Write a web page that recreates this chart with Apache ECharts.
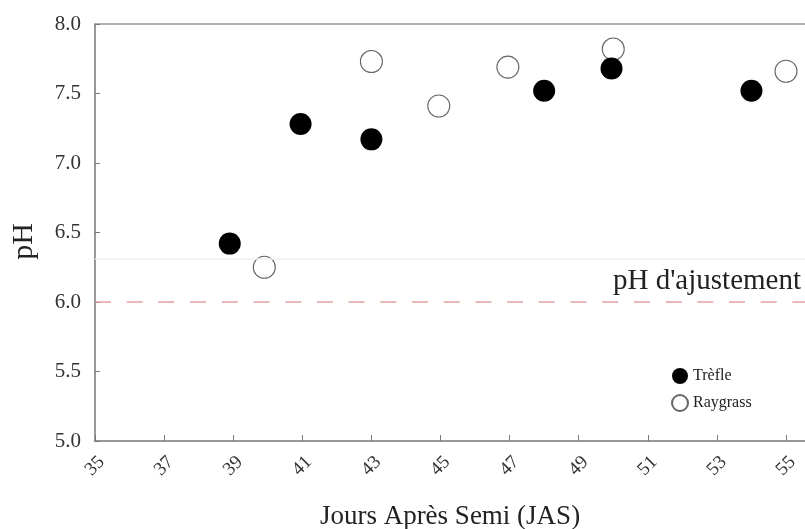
<!DOCTYPE html>
<html><head><meta charset="utf-8">
<script src="https://cdn.jsdelivr.net/npm/echarts@6/dist/echarts.min.js"></script>
<style>html,body{margin:0;padding:0;background:#fff}#c{width:805px;height:529px}</style>
</head><body><div id="c"></div>
<script>
const xTicks = [35,37,39,41,43,45,47,49,51,53,55];
const trefleX = [38.9,40.95,43,48,49.95,54];
const trefleY = [6.42,7.28,7.17,7.52,7.68,7.52];
const raygrassX = [39.9,43,44.95,46.95,50,55];
const raygrassY = [6.25,7.73,7.41,7.69,7.82,7.66];
const seuil = 6.0;
const seuilLabel = "pH d'ajustement";
const bandeHaut = 6.31;

const font = "'Liberation Serif', 'DejaVu Serif', serif";
const chart = echarts.init(document.getElementById('c'));
chart.setOption({
  animation:false,
  textStyle:{fontFamily:font},
  grid:{left:95,right:0,top:24,bottom:88,outerBoundsMode:'none',containLabel:false},
  legend:{
    orient:'vertical', left:666, top:363, itemGap:10, itemWidth:16, itemHeight:16,
    textStyle:{fontFamily:font,fontSize:16,color:'#222'},
    data:['Trèfle','Raygrass']
  },
  xAxis:[{
    type:'value', min:35, max:55.55, interval:2,
    name:'Jours Après Semi (JAS)', nameLocation:'middle', nameGap:62,
    nameTextStyle:{fontFamily:font,fontSize:27,color:'#222'},
    axisLine:{lineStyle:{color:'#777',width:1.5}},
    axisTick:{inside:true,length:6,lineStyle:{color:'#777'},customValues:xTicks},
    axisLabel:{rotate:45,fontSize:19,color:'#333',margin:25,align:'center',verticalAlign:'middle',customValues:xTicks,formatter:v=>String(v)},
    splitLine:{show:false}
  },{
    type:'value', position:'top', min:35, max:55.55,
    axisLine:{show:true,onZero:false,lineStyle:{color:'#999',width:1.5}},
    axisTick:{show:false}, axisLabel:{show:false}, splitLine:{show:false}
  }],
  yAxis:{
    type:'value', min:5, max:8, interval:0.5,
    name:'pH', nameLocation:'middle', nameGap:56,
    nameTextStyle:{fontFamily:font,fontSize:30,color:'#222',padding:[0,18,0,0]},
    axisLine:{show:true,lineStyle:{color:'#777',width:1.5}},
    axisTick:{show:true,inside:true,length:5,lineStyle:{color:'#777'}},
    axisLabel:{fontSize:21,color:'#333',margin:14,formatter:v=>v.toFixed(1)},
    splitLine:{show:false}
  },
  series:[{
    name:'Trèfle', type:'scatter', symbol:'circle', symbolSize:22,
    itemStyle:{color:'#000',opacity:1},
    data:trefleX.map((x,i)=>[x,trefleY[i]]),
    markLine:{
      silent:true, symbol:'none',
      label:{show:true, position:'insideEndTop', formatter:seuilLabel, fontFamily:font, fontSize:29, color:'#222', distance:[4,6]},
      lineStyle:{color:'#e6a0a0', type:[16,15.7], width:1.6},
      data:[{yAxis:seuil}]
    },
    z:3
  },{
    name:'Raygrass', type:'scatter', symbol:'circle', symbolSize:22,
    itemStyle:{color:'#fff', borderColor:'#666', borderWidth:1.1, opacity:1},
    data:raygrassX.map((x,i)=>[x,raygrassY[i]]),
    markLine:{
      silent:true, symbol:'none', label:{show:false},
      lineStyle:{color:'#eeeeee', type:'solid', width:1.5},
      data:[{yAxis:bandeHaut}]
    },
    z:2
  }]
});
</script></body></html>
